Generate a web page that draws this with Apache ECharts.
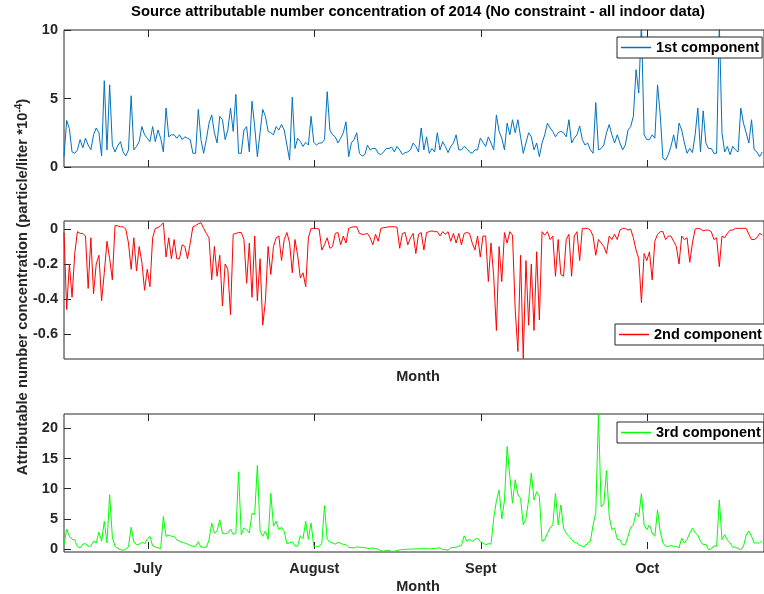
<!DOCTYPE html>
<html>
<head>
<meta charset="utf-8">
<script src="https://cdn.jsdelivr.net/npm/echarts@6/dist/echarts.min.js"></script>
<style>
html,body{margin:0;padding:0;background:#fff;}
#chart{width:764px;height:594px;}
</style>
</head>
<body>
<div id="chart"></div>
<script>
// ---- data (x sampled every half day, starting mid-June) ----
const xStart = 15.4;
const xStep = 0.5;
const monthTicks = [31, 62, 93, 124];
const monthNames = ['July', 'August', 'Sept', 'Oct'];
const seriesNames = ['1st component', '2nd component', '3rd component'];

const comp1 = [
 0.75,3.4,2.8,1.1,1.0,1.25,2.0,1.4,2.1,1.6,
 1.25,2.35,2.85,2.5,0.8,6.3,1.25,6.0,1.6,1.1,
 1.55,1.85,1.1,0.8,1.25,5.2,1.25,1.5,1.85,2.95,
 2.35,2.1,1.85,2.95,1.85,2.7,2.1,1.1,4.3,2.2,
 2.35,2.35,2.1,2.35,2.0,2.2,2.1,2.0,1.0,1.0,
 4.2,2.0,1.0,2.0,3.2,3.8,2.5,1.75,3.7,3.45,
 2.0,2.7,4.3,2.6,5.3,1.0,1.0,2.7,2.95,1.1,
 4.8,2.95,0.75,2.5,4.2,3.7,2.6,2.5,2.35,2.95,
 2.7,3.1,2.7,1.6,0.5,5.1,1.35,2.1,1.85,1.5,
 1.8,1.6,3.7,1.8,1.6,1.75,1.75,2.0,5.5,2.7,
 2.35,2.2,1.75,2.1,2.5,3.3,0.75,1.75,2.0,2.5,
 1.0,0.8,0.9,1.6,1.25,1.35,1.35,1.0,0.9,1.1,
 1.35,1.35,1.45,1.1,1.5,1.25,0.9,1.05,1.1,1.25,
 1.75,1.5,1.1,2.85,1.25,2.2,1.0,1.35,1.1,2.5,
 1.25,1.85,1.5,1.05,1.5,1.75,2.35,1.25,1.25,1.5,
 1.35,1.1,1.0,1.25,1.25,2.1,1.8,1.5,2.2,1.75,
 1.25,3.8,2.6,2.1,1.25,3.2,2.35,3.45,2.5,3.45,
 2.2,1.0,1.75,2.5,2.2,1.25,1.75,0.75,1.75,2.35,
 3.2,2.85,2.6,2.2,2.5,2.6,2.5,2.2,3.45,1.75,
 2.1,2.35,3.0,2.0,1.6,1.75,1.25,1.0,4.7,1.25,
 1.35,1.6,2.5,3.1,2.35,1.75,2.35,1.75,1.25,1.6,
 2.7,2.95,3.7,7.1,5.4,10.5,2.35,2.0,2.0,2.35,
 2.1,6.0,3.8,0.65,0.5,0.9,1.5,2.35,1.35,3.2,
 2.7,1.75,1.0,1.35,1.05,2.35,4.3,1.1,4.1,1.75,
 1.35,1.35,1.0,1.0,10.5,2.5,1.1,1.5,0.9,1.5,
 1.25,1.1,4.3,3.2,2.5,1.75,3.45,1.25,1.1,0.75,1.1
];

const comp2 = [
 -0.02,-0.46,-0.2,-0.39,-0.14,-0.015,-0.025,-0.025,-0.04,-0.34,
 -0.05,-0.37,-0.2,-0.15,-0.41,-0.25,-0.07,-0.17,-0.29,0.02,
 0.018,0.013,0.013,0.0,-0.08,-0.23,-0.05,-0.24,-0.1,-0.19,
 -0.35,-0.23,-0.33,-0.05,0.004,0.008,0.02,0.035,-0.16,-0.05,
 -0.17,-0.06,-0.17,-0.17,-0.09,-0.1,-0.17,-0.08,0.013,0.02,
 0.03,0.036,0.004,-0.025,-0.05,-0.29,-0.1,-0.27,-0.15,-0.44,
 -0.2,-0.23,-0.49,-0.03,-0.025,-0.02,-0.02,-0.06,-0.31,-0.08,
 -0.39,-0.04,-0.41,-0.17,-0.55,-0.41,-0.1,-0.26,-0.1,-0.05,
 -0.04,-0.18,-0.06,-0.02,-0.08,-0.25,-0.06,-0.15,-0.28,-0.25,
 -0.33,-0.05,0.004,0.004,0.004,0.0,-0.12,-0.09,-0.05,-0.11,
 -0.1,-0.025,-0.02,-0.09,-0.04,-0.08,0.004,0.01,0.013,0.013,
 -0.025,-0.03,-0.03,-0.025,-0.05,-0.09,-0.03,-0.07,0.004,0.008,
 0.01,0.013,0.013,0.013,0.01,-0.11,-0.025,-0.02,-0.09,-0.05,
 -0.025,-0.14,-0.03,-0.02,-0.12,-0.02,-0.015,-0.01,-0.015,-0.015,
 -0.04,-0.015,-0.03,-0.015,-0.07,-0.025,-0.08,-0.025,-0.09,-0.025,
 -0.02,-0.025,-0.08,-0.12,-0.04,-0.16,-0.04,-0.04,-0.3,-0.08,
 -0.27,-0.58,-0.1,-0.3,-0.02,-0.08,-0.015,-0.035,-0.46,-0.7,
 -0.15,-0.74,-0.18,-0.55,-0.2,-0.58,-0.13,-0.52,-0.015,-0.035,
 -0.015,-0.06,-0.04,-0.27,-0.06,-0.26,-0.27,-0.06,-0.03,-0.27,
 -0.04,-0.015,-0.18,0.004,0.004,0.004,-0.006,-0.04,-0.15,-0.06,
 -0.08,-0.1,-0.14,-0.04,-0.06,-0.03,-0.06,-0.006,0.004,0.004,
 -0.006,0.0,-0.05,-0.12,-0.17,-0.42,-0.14,-0.18,-0.13,-0.29,
 -0.07,-0.03,-0.015,-0.015,-0.06,-0.04,-0.04,-0.07,-0.1,-0.2,
 -0.04,-0.06,-0.05,-0.19,-0.08,0.0,0.004,0.0,-0.01,-0.006,
 -0.006,-0.015,-0.06,-0.05,-0.215,-0.04,-0.05,-0.025,-0.006,-0.006,
 0.004,0.004,0.004,0.004,0.004,-0.03,-0.06,-0.06,-0.05,-0.025,-0.034
];

const comp3 = [
 0.7,3.3,2.1,1.6,1.5,0.4,0.17,0.8,0.9,0.44,
 0.5,1.3,1.0,2.8,1.3,4.6,1.0,9.0,2.0,0.44,
 0.1,-0.1,-0.2,-0.05,0.35,3.6,1.2,0.7,0.8,1.1,
 0.9,1.6,2.1,0.5,0.3,0.2,0.05,5.4,2.1,2.3,
 2.1,2.1,1.5,1.27,1.1,1.0,0.8,0.6,0.44,0.44,
 1.2,0.3,0.3,0.28,1.5,4.3,2.6,3.0,4.85,2.6,
 2.5,2.64,3.3,2.4,2.64,12.8,2.37,3.5,3.2,2.64,
 5.9,5.7,13.9,3.0,2.1,3.0,1.6,9.25,3.8,4.6,
 3.2,3.6,2.9,0.9,1.0,1.2,0.5,0.44,2.2,1.7,
 4.6,1.6,4.3,0.44,0.44,0.44,0.95,7.2,1.6,1.15,
 1.0,0.8,1.1,0.95,0.75,0.7,0.28,0.2,0.2,0.35,
 0.28,0.28,0.2,0.1,0.1,0.17,0.05,-0.05,-0.3,-0.35,
 -0.25,-0.2,-0.45,-0.4,-0.25,-0.15,-0.1,-0.1,0.0,-0.05,
 0.0,0.05,0.0,0.05,0.05,0.05,0.0,0.05,0.1,0.15,
 0.17,-0.1,-0.1,-0.2,0.2,0.25,0.3,0.44,0.6,2.2,
 1.3,1.6,1.27,1.6,1.8,1.2,1.0,0.7,0.9,0.8,
 5.1,8.0,9.8,5.0,8.0,17.0,12.0,7.6,11.5,9.0,
 8.4,4.0,5.0,8.15,12.6,8.15,9.5,8.7,1.27,1.5,
 2.6,3.5,4.0,9.25,4.0,7.3,3.47,2.6,2.1,1.6,
 1.1,1.0,0.6,0.44,0.44,1.0,1.3,4.0,6.0,22.4,
 7.0,7.5,13.0,5.5,3.2,3.5,1.6,1.5,0.7,0.7,
 2.1,3.6,4.0,6.0,5.3,9.2,4.0,3.2,4.0,2.64,
 2.1,6.5,2.9,1.0,0.44,0.44,0.55,0.44,0.44,0.2,
 1.8,1.0,1.6,2.64,3.47,2.7,2.3,1.3,0.7,0.8,
 -0.1,0.0,0.5,0.44,8.15,1.54,2.37,1.5,1.0,0.3,
 0.3,0.05,-0.1,0.44,2.3,3.0,2.1,1.0,1.0,1.0,1.4
];

const yTicks1 = [0, 5, 10];
const yTicks2 = [-0.6, -0.4, -0.2, 0];
const yTicks3 = [0, 5, 10, 15, 20];

// ---- chart ----
const FONT = '"Liberation Sans", Arial, Helvetica, sans-serif';
const AX = '#262626';
const xMin = 15.4, xMax = 145.72;

function toPairs(arr) { return arr.map((v, i) => [xStart + i * xStep, v]); }

function xAx(gi, pos, showLabels) {
  return {
    type: 'value', gridIndex: gi, position: pos, min: xMin, max: xMax,
    axisLine: { show: false },
    splitLine: { show: false },
    axisTick: { show: true, inside: true, length: 7, customValues: monthTicks,
      lineStyle: { color: AX, width: 1 } },
    axisLabel: { show: showLabels, customValues: monthTicks, margin: 9,
      fontFamily: FONT, fontWeight: 'bold', fontSize: 14.5, color: AX,
      formatter: v => { const k = monthTicks.indexOf(Math.round(v)); return k >= 0 ? monthNames[k] : ''; } }
  };
}
function yAx(gi, min, max, ticks, fmt) {
  return {
    type: 'value', gridIndex: gi, min: min, max: max,
    axisLine: { show: false },
    splitLine: { show: false },
    axisTick: { show: true, inside: true, length: 7, customValues: ticks,
      lineStyle: { color: AX, width: 1 } },
    axisLabel: { customValues: ticks, margin: 6,
      fontFamily: FONT, fontWeight: 'bold', fontSize: 14.5, color: AX,
      formatter: fmt }
  };
}

const gridCommon = { left: 64, width: 702, show: true, borderColor: AX, borderWidth: 1, backgroundColor: 'transparent', containLabel: false };

const legendCommon = {
  orient: 'horizontal', backgroundColor: '#fff', borderColor: AX, borderWidth: 1,
  borderRadius: 0, padding: [3, 3, 3, 4], itemWidth: 30, itemHeight: 1.5, icon: 'rect',
  itemGap: 0,
  textStyle: { fontFamily: FONT, fontWeight: 'bold', fontSize: 14.5, color: '#000' }
};

const option = {
  animation: false,
  backgroundColor: '#fff',
  grid: [
    Object.assign({ top: 30, height: 137 }, gridCommon),
    Object.assign({ top: 221, height: 138 }, gridCommon),
    Object.assign({ top: 414, height: 138 }, gridCommon)
  ],
  xAxis: [
    xAx(0, 'bottom', false), xAx(0, 'top', false),
    xAx(1, 'bottom', false), xAx(1, 'top', false),
    xAx(2, 'bottom', true), xAx(2, 'top', false)
  ],
  yAxis: [
    yAx(0, 0, 10, yTicks1, v => String(v)),
    yAx(1, -0.743, 0.046, yTicks2, v => (Math.abs(v) < 1e-9 ? '0' : v.toFixed(1))),
    yAx(2, -0.5, 22.4, yTicks3, v => String(v))
  ],
  legend: [
    Object.assign({ data: [seriesNames[0]], left: 617, top: 37 }, legendCommon),
    Object.assign({ data: [seriesNames[1]], left: 615, top: 324 }, legendCommon),
    Object.assign({ data: [seriesNames[2]], left: 617, top: 422 }, legendCommon)
  ],
  series: [
    { name: seriesNames[0], type: 'line', xAxisIndex: 0, yAxisIndex: 0, data: toPairs(comp1),
      symbol: 'none', clip: true, color: '#0072BD', lineStyle: { width: 1, color: '#0072BD' } },
    { name: seriesNames[1], type: 'line', xAxisIndex: 2, yAxisIndex: 1, data: toPairs(comp2),
      symbol: 'none', clip: true, color: '#FF0000', lineStyle: { width: 1, color: '#FF0000' } },
    { name: seriesNames[2], type: 'line', xAxisIndex: 4, yAxisIndex: 2, data: toPairs(comp3),
      symbol: 'none', clip: true, color: '#00FF00', lineStyle: { width: 1, color: '#00FF00' } }
  ],
  graphic: [
    { type: 'text', x: 418, y: 12,
      style: { text: 'Source attributable number concentration of 2014 (No constraint - all indoor data)',
        align: 'center', verticalAlign: 'middle',
        fontFamily: FONT, fontWeight: 'bold', fontSize: 14.8, fill: '#000' } },
    { type: 'text', x: 418, y: 377,
      style: { text: 'Month', align: 'center', verticalAlign: 'middle',
        fontFamily: FONT, fontWeight: 'bold', fontSize: 14.5, fill: AX } },
    { type: 'text', x: 418, y: 587,
      style: { text: 'Month', align: 'center', verticalAlign: 'middle',
        fontFamily: FONT, fontWeight: 'bold', fontSize: 14.5, fill: AX } },
    { type: 'text', x: 23, y: 287, rotation: Math.PI / 2,
      style: { text: 'Attributable number concentration (particle/liter *10{sup|-4})',
        align: 'center', verticalAlign: 'middle',
        fontFamily: FONT, fontWeight: 'bold', fontSize: 14.8, fill: AX,
        rich: { sup: { fontFamily: FONT, fontWeight: 'bold', fontSize: 10, fill: AX, verticalAlign: 'top', padding: [0, 0, 8, 0] } } } }
  ]
};

const chart = echarts.init(document.getElementById('chart'), null, { renderer: 'canvas' });
chart.setOption(option);
</script>
</body>
</html>
